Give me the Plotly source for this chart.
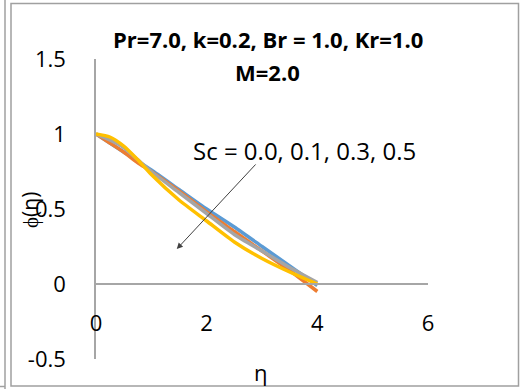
import plotly.graph_objects as go

# ---- data ----
eta = [0, 0.25, 0.5, 0.75, 1, 1.5, 2, 2.5, 3, 3.5, 4]
sc_names = ["Sc=0.0", "Sc=0.1", "Sc=0.3", "Sc=0.5"]
phi_sc00 = [1.0, 0.94, 0.88, 0.82, 0.76, 0.63, 0.50, 0.38, 0.25, 0.12, -0.01]
phi_sc01 = [1.0, 0.94, 0.88, 0.81, 0.75, 0.62, 0.48, 0.35, 0.22, 0.09, -0.05]
phi_sc03 = [1.0, 0.96, 0.91, 0.83, 0.75, 0.61, 0.47, 0.33, 0.22, 0.11, 0.01]
phi_sc05 = [1.0, 0.98, 0.92, 0.83, 0.73, 0.56, 0.42, 0.28, 0.17, 0.08, 0.0]
series = [phi_sc00, phi_sc01, phi_sc03, phi_sc05]
colors = ["#5B9BD5", "#ED7D31", "#A5A5A5", "#FFC000"]

x_ticks = [0, 2, 4, 6]
x_ticktext = ["0", "2", "4", "6"]
y_ticks = [-0.5, 0, 0.5, 1, 1.5]
y_ticktext = ["-0.5", "0", "0.5", "1", "1.5"]

FONT = "Open Sans"

fig = go.Figure()
for name, ys, c in zip(sc_names, series, colors):
    fig.add_trace(go.Scatter(x=eta, y=ys, mode="lines", name=name,
                             line=dict(color=c, width=3.5, shape="spline", smoothing=0.6)))

fig.update_layout(
    width=521, height=389,
    margin=dict(l=96, r=93, t=59, b=30),
    paper_bgcolor="white", plot_bgcolor="white",
    showlegend=False,
    font=dict(family=FONT, color="black"),
    xaxis=dict(range=[0, 6], tickvals=x_ticks, ticktext=x_ticktext,
               showgrid=False, zeroline=False, showline=True,
               linecolor="#A6A6A6", linewidth=1.5, ticks="",
               anchor="free", position=0.25,
               tickfont=dict(size=22, family=FONT, color="black"),
               ticklabelstandoff=20),
    yaxis=dict(range=[-0.5, 1.5], tickvals=y_ticks, ticktext=y_ticktext,
               showgrid=False, zeroline=False, showline=True,
               linecolor="#A6A6A6", linewidth=1.5, ticks="",
               tickfont=dict(size=22, family=FONT, color="black"),
               ticklabelstandoff=24),
)

# titles
fig.add_annotation(text="<b>Pr=7.0, k=0.2, Br = 1.0, Kr=1.0</b>", xref="paper", yref="paper",
                   x=0.518, y=(359 - 39) / 300, showarrow=False,
                   font=dict(size=22, family=FONT, color="black"), xanchor="center", yanchor="middle")
fig.add_annotation(text="<b>M=2.0</b>", xref="paper", yref="paper",
                   x=0.518, y=(359 - 72) / 300, showarrow=False,
                   font=dict(size=22, family=FONT, color="black"), xanchor="center", yanchor="middle")

# axis titles
fig.add_annotation(text="ϕ(η)", xref="paper", yref="paper",
                   x=(30 - 96) / 332, y=(359 - 210) / 300, textangle=-90, showarrow=False,
                   font=dict(size=21, family=FONT, color="black"), xanchor="center", yanchor="middle")
fig.add_annotation(text="η", xref="paper", yref="paper",
                   x=0.497, y=(359 - 372) / 300, showarrow=False,
                   font=dict(size=22, family=FONT, color="black"), xanchor="center", yanchor="middle")

# Sc label and arrow
fig.add_annotation(text="Sc = 0.0, 0.1, 0.3, 0.5", x=3.76, y=0.89, xref="x", yref="y",
                   showarrow=False, font=dict(size=24, family=FONT, color="black"),
                   xanchor="center", yanchor="middle")
fig.add_annotation(text="", x=1.46, y=0.233, ax=2.91, ay=0.807, xref="x", yref="y",
                   axref="x", ayref="y", showarrow=True, arrowhead=2, arrowsize=1.2,
                   arrowwidth=1, arrowcolor="#404040")

# frame lines
def px(xp):
    return (xp - 96) / 332

def py(yp):
    return (359 - yp) / 300

frame = dict(color="#A0A0A0", width=1.5)
fig.add_shape(type="rect", xref="paper", yref="paper",
              x0=px(11), x1=px(518.5), y0=py(386), y1=py(3.5), line=frame)
fig.add_shape(type="line", xref="paper", yref="paper",
              x0=px(5), x1=px(5), y0=py(389), y1=py(0), line=frame)
fig.add_shape(type="line", xref="paper", yref="paper",
              x0=px(0), x1=px(5), y0=py(386.5), y1=py(386.5), line=frame)

fig.write_html("out.html", config={"displayModeBar": False},
               post_script="document.body.style.margin='0';document.body.style.overflow='hidden';")
